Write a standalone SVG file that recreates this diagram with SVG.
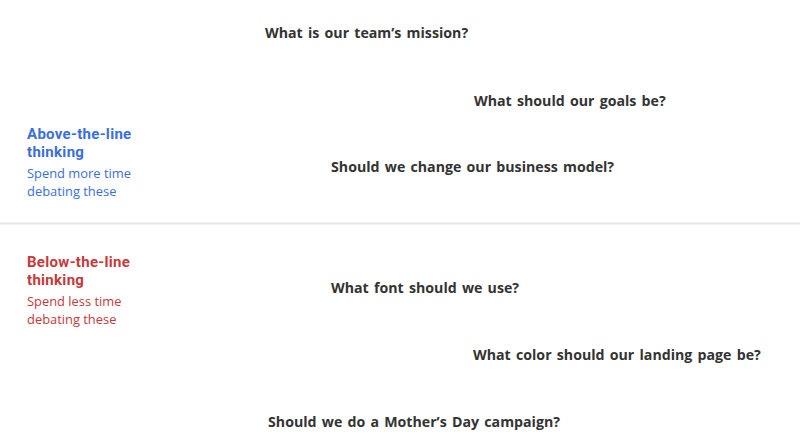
<svg xmlns="http://www.w3.org/2000/svg" width="800" height="448" viewBox="0 0 800 448">
<style>
.q{font-family:"Open Sans","Liberation Sans",sans-serif;font-weight:700;font-size:14.2px;word-spacing:1.5px;fill:#333}
.h{font-family:Roboto,"Liberation Sans",sans-serif;font-weight:700;font-size:15px;letter-spacing:0.3px}
.s{font-family:"Open Sans","Liberation Sans",sans-serif;font-size:12.9px}
.blue{fill:#3a6ee0}
.red{fill:#c9383a}
</style>
<rect width="800" height="448" fill="#fff"/>
<g id="divider"><line x1="0" y1="223.5" x2="800" y2="223.5" stroke="#e6e6e6" stroke-width="2"/></g>
<g id="above-label">
<text class="h blue" x="27" y="139">Above-the-line</text>
<text class="h blue" x="27" y="157">thinking</text>
<text class="s blue" x="27" y="178">Spend more time</text>
<text class="s blue" x="27" y="196">debating these</text>
</g>
<g id="below-label">
<text class="h red" x="27" y="267">Below-the-line</text>
<text class="h red" x="27" y="285">thinking</text>
<text class="s red" x="27" y="306">Spend less time</text>
<text class="s red" x="27" y="324">debating these</text>
</g>
<g id="q1"><text class="q" x="265" y="37.5">What is our team’s mission?</text></g>
<g id="q2"><text class="q" x="474" y="105.5">What should our goals be?</text></g>
<g id="q3"><text class="q" x="331" y="171.5">Should we change our business model?</text></g>
<g id="q4"><text class="q" x="331" y="292.5">What font should we use?</text></g>
<g id="q5"><text class="q" x="473" y="359.5">What color should our landing page be?</text></g>
<g id="q6"><text class="q" x="268" y="426.5">Should we do a Mother’s Day campaign?</text></g>
<g id="connectors"></g>
</svg>
